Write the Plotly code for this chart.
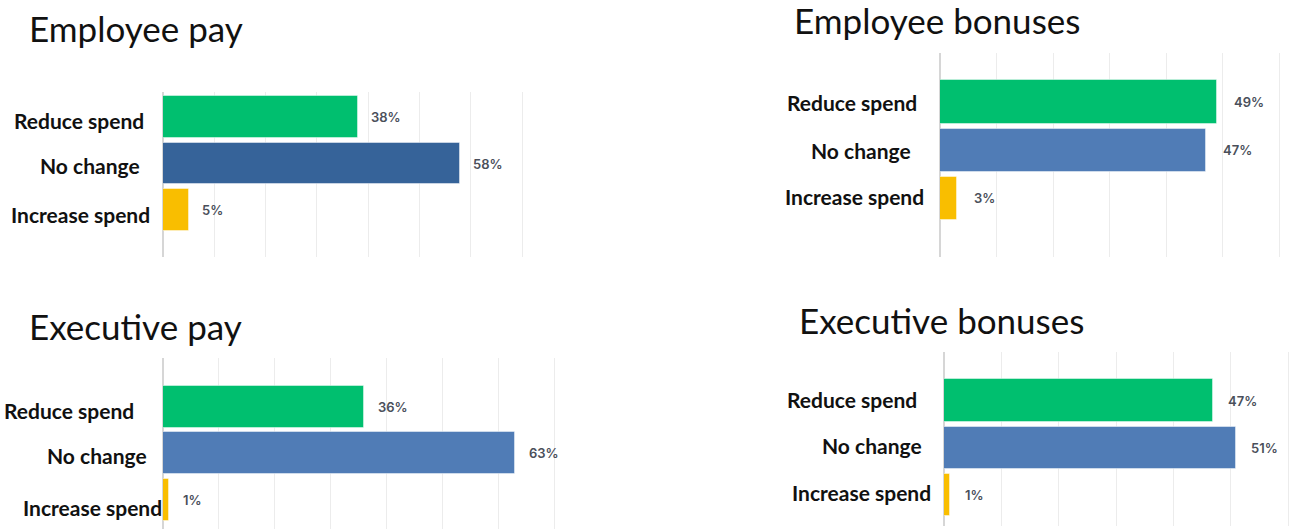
import plotly.graph_objects as go

W, H = 1294, 529

# Survey answers, one list per question, in the order of the categories
categories = ["Reduce spend", "No change", "Increase spend"]
titles = ["Employee pay", "Employee bonuses", "Executive pay", "Executive bonuses"]
employee_pay = [38, 58, 5]
employee_bonuses = [49, 47, 3]
executive_pay = [36, 63, 1]
executive_bonuses = [47, 51, 1]
series = [employee_pay, employee_bonuses, executive_pay, executive_bonuses]

GREEN = "#00BF6F"
YELLOW = "#F9BE00"
BLUE_DARK = "#366399"
BLUE = "#507CB6"
bar_colors = [
    [GREEN, BLUE_DARK, YELLOW],
    [GREEN, BLUE, YELLOW],
    [GREEN, BLUE, YELLOW],
    [GREEN, BLUE, YELLOW],
]


def px_x(p):
    return p / W


def px_y(p):
    return 1 - p / H


# Panel geometry in screen pixels: x0 = zero line, x_last = last gridline,
# top/bottom plot edges, last gridline value, y range (reversed index)
panels = [
    dict(x0=163, x_last=522, top=92, bottom=257, xmax=70, yr=[3.01, -0.54],
         title_xy=(27, 28), gap=11,
         lab=[(79, 3), (90, 2), (80, 4)]),
    dict(x0=940, x_last=1279, top=53, bottom=257, xmax=60, yr=[3.22, -1.02],
         title_xy=(792, 20), gap=15,
         lab=[(852, 0), (861, 0), (854, -2)]),
    dict(x0=163, x_last=554, top=358, bottom=529, xmax=70, yr=[2.62, -1.04],
         title_xy=(27, 326), gap=12,
         lab=[(69, 4), (97, 2), (92, 7)]),
    dict(x0=944, x_last=1288, top=352, bottom=526, xmax=60, yr=[2.66, -1.03],
         title_xy=(797, 320), gap=13,
         lab=[(852, -1), (872, -2), (861, -2)]),
]

fig = go.Figure()
annotations = []
ypos = list(range(len(categories)))
PAD = 3  # extra pixels so the last gridline is drawn inside the plot

for i, (p, vals, cols, title) in enumerate(zip(panels, series, bar_colors, titles)):
    n = "" if i == 0 else str(i + 1)
    xa, ya = "x" + n, "y" + n
    span = p["x_last"] - p["x0"]
    fig.add_trace(go.Bar(
        x=vals, y=ypos, orientation="h", width=0.9,
        marker=dict(color=cols, line=dict(color="rgba(255,255,255,0.45)", width=1)),
        xaxis=xa, yaxis=ya, showlegend=False, hoverinfo="skip",
    ))
    fig.layout["xaxis" + n] = dict(
        domain=[px_x(p["x0"]), px_x(p["x_last"] + PAD)],
        range=[0, p["xmax"] * (span + PAD) / span],
        anchor=ya, tick0=0, dtick=10, showticklabels=False, ticks="",
        showgrid=True, gridcolor="#ECECEC", gridwidth=1,
        zeroline=True, zerolinecolor="#D6D6D6", zerolinewidth=2,
        showline=False, fixedrange=True,
    )
    fig.layout["yaxis" + n] = dict(
        domain=[px_y(p["bottom"]), px_y(p["top"])], range=p["yr"],
        anchor=xa, showticklabels=False, showgrid=False, zeroline=False,
        showline=False, ticks="", fixedrange=True,
    )
    # panel heading
    tx, ty = p["title_xy"]
    annotations.append(dict(
        text=title, xref="paper", yref="paper", x=px_x(tx), y=px_y(ty),
        xanchor="left", yanchor="middle", showarrow=False,
        font=dict(family="Lato", size=35, color="#111111"),
    ))
    for k, (cat, v) in enumerate(zip(categories, vals)):
        cx, dy = p["lab"][k]
        annotations.append(dict(
            text=f"<b>{cat}</b>", xref="paper", yref=ya, x=px_x(cx), y=k,
            xanchor="center", yanchor="middle", yshift=-dy, showarrow=False,
            font=dict(family="Lato", size=21, color="#111111"),
        ))
        annotations.append(dict(
            text=f"{v}%", xref=xa, yref=ya, x=v, y=k, xanchor="left",
            yanchor="middle", xshift=p["gap"], showarrow=False,
            font=dict(family="Inter", size=13, color="#4A4F5A", weight=600),
        ))

fig.update_layout(
    width=W, height=H, margin=dict(l=0, r=0, t=0, b=0),
    paper_bgcolor="white", plot_bgcolor="white",
    annotations=annotations, bargap=0,
)

fig.write_html("out.html", config={"displayModeBar": False})
